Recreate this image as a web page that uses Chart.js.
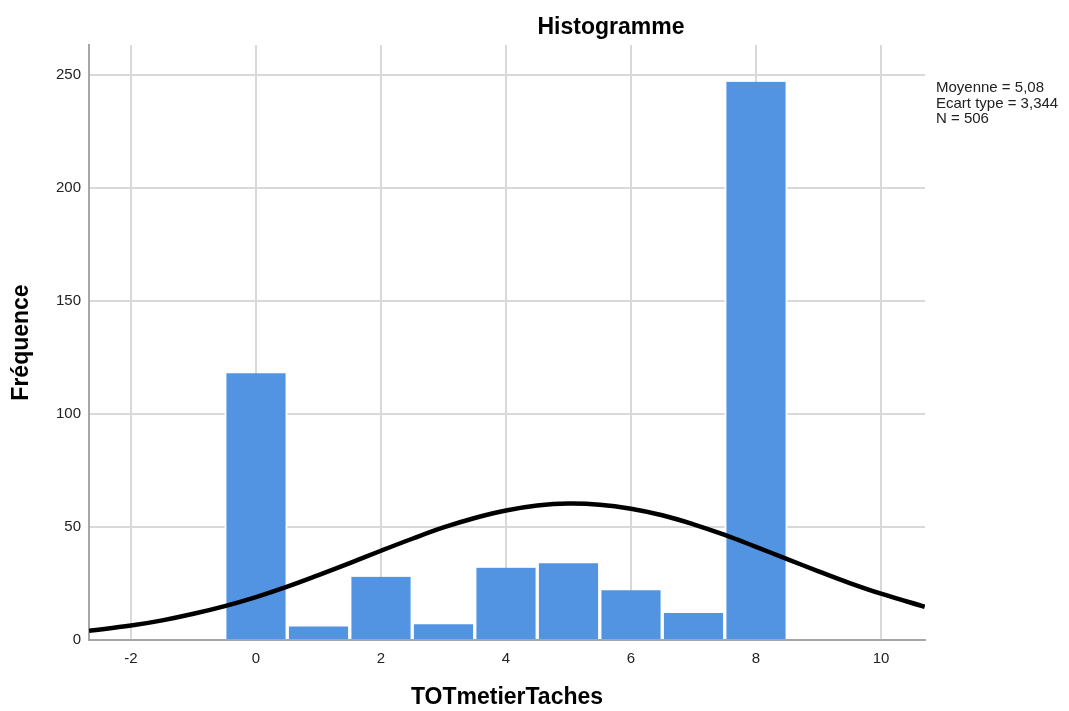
<!DOCTYPE html>
<html>
<head>
<meta charset="utf-8">
<script src="https://cdn.jsdelivr.net/npm/chart.js@4"></script>
<style>
  html, body { margin: 0; padding: 0; background: #fff; }
  #wrap { width: 1069px; height: 711px; }
</style>
</head>
<body>
<div id="wrap"><canvas id="histChart"></canvas></div>
<script>
// histogram bins (centre of each bin) and counts
const binCenters = [0, 1, 2, 3, 4, 5, 6, 7, 8];
const frequencies = [118, 6, 28, 7, 32, 34, 22, 12, 247];

// normal curve
const curveX = [-2.67, -2, -1.5, -1, -0.5, 0, 0.5, 1, 1.5, 2, 2.5, 3, 3.5, 4, 4.5, 5, 5.5, 6, 6.5, 7, 7.5, 8, 8.5, 9, 9.5, 10, 10.7];
const curveY = [4.1, 6.4, 8.7, 11.6, 15.0, 19.0, 23.6, 28.7, 34.0, 39.5, 44.8, 49.8, 54.0, 57.3, 59.5, 60.4, 59.9, 58.1, 55.2, 51.2, 46.5, 41.2, 35.8, 30.4, 25.2, 20.5, 14.7];

const xTicks = [-2, 0, 2, 4, 6, 8, 10];
const yTicks = [0, 50, 100, 150, 200, 250];
const statsLines = ["Moyenne = 5,08", "Ecart type = 3,344", "N = 506"];

const FONT = "'Liberation Sans', Arial, sans-serif";

const textPlugin = {
  id: "textPlugin",
  afterDraw(chart) {
    const ctx = chart.ctx;
    ctx.save();
    ctx.fillStyle = "#000";
    ctx.font = "bold 23px " + FONT;
    ctx.textAlign = "center";
    ctx.textBaseline = "alphabetic";
    ctx.fillText("Histogramme", 611, 34);

    ctx.font = "15px " + FONT;
    ctx.textAlign = "left";
    ctx.fillStyle = "#222";
    statsLines.forEach((t, i) => ctx.fillText(t, 936, 92 + i * 15.5));
    ctx.restore();
  }
};

const curvePoints = curveX.map((x, i) => ({ x: x, y: curveY[i] }));
const barPoints = binCenters.map((x, i) => ({ x: x, y: frequencies[i] }));

new Chart(document.getElementById("histChart"), {
  type: "bar",
  data: {
    datasets: [
      {
        type: "line",
        data: curvePoints,
        borderColor: "#000",
        borderWidth: 4.5,
        pointRadius: 0,
        tension: 0.4,
        fill: false,
        order: 0
      },
      {
        type: "bar",
        data: barPoints,
        backgroundColor: "#5294e2",
        borderColor: "#ffffff",
        borderWidth: { left: 2, right: 2, top: 0, bottom: 0 },
        borderSkipped: false,
        barPercentage: 1,
        categoryPercentage: 1,
        order: 1
      }
    ]
  },
  options: {
    responsive: true,
    maintainAspectRatio: false,
    animation: false,
    layout: { padding: { top: 45, right: 144, left: 0, bottom: 0 } },
    plugins: {
      legend: { display: false },
      tooltip: { enabled: false }
    },
    scales: {
      x: {
        type: "linear",
        min: -2.672,
        max: 10.704,
        offset: false,
        afterBuildTicks: s => { s.ticks = xTicks.map(v => ({ value: v })); },
        afterFit: s => { s.height = 71; },
        grid: { color: "#d9d9d9", lineWidth: 2, drawTicks: false, offset: false },
        border: { color: "#a6a6a6", width: 2 },
        ticks: { padding: 10, color: "#222", font: { family: FONT, size: 15 } },
        title: {
          display: true,
          text: "TOTmetierTaches",
          color: "#000",
          font: { family: FONT, size: 23, weight: "bold" },
          padding: { top: 0, bottom: 0 }
        }
      },
      y: {
        min: 0,
        max: 263.3,
        afterBuildTicks: s => { s.ticks = yTicks.map(v => ({ value: v })); },
        afterFit: s => { s.width = 89; },
        grid: { color: "#d9d9d9", lineWidth: 2, drawTicks: false },
        border: { color: "#a6a6a6", width: 2 },
        ticks: { padding: 8, color: "#222", font: { family: FONT, size: 15 } },
        title: {
          display: true,
          text: "Fréquence",
          color: "#000",
          font: { family: FONT, size: 23, weight: "bold" },
          padding: { top: 8, bottom: 0 }
        }
      }
    }
  },
  plugins: [textPlugin]
});
</script>
</body>
</html>
